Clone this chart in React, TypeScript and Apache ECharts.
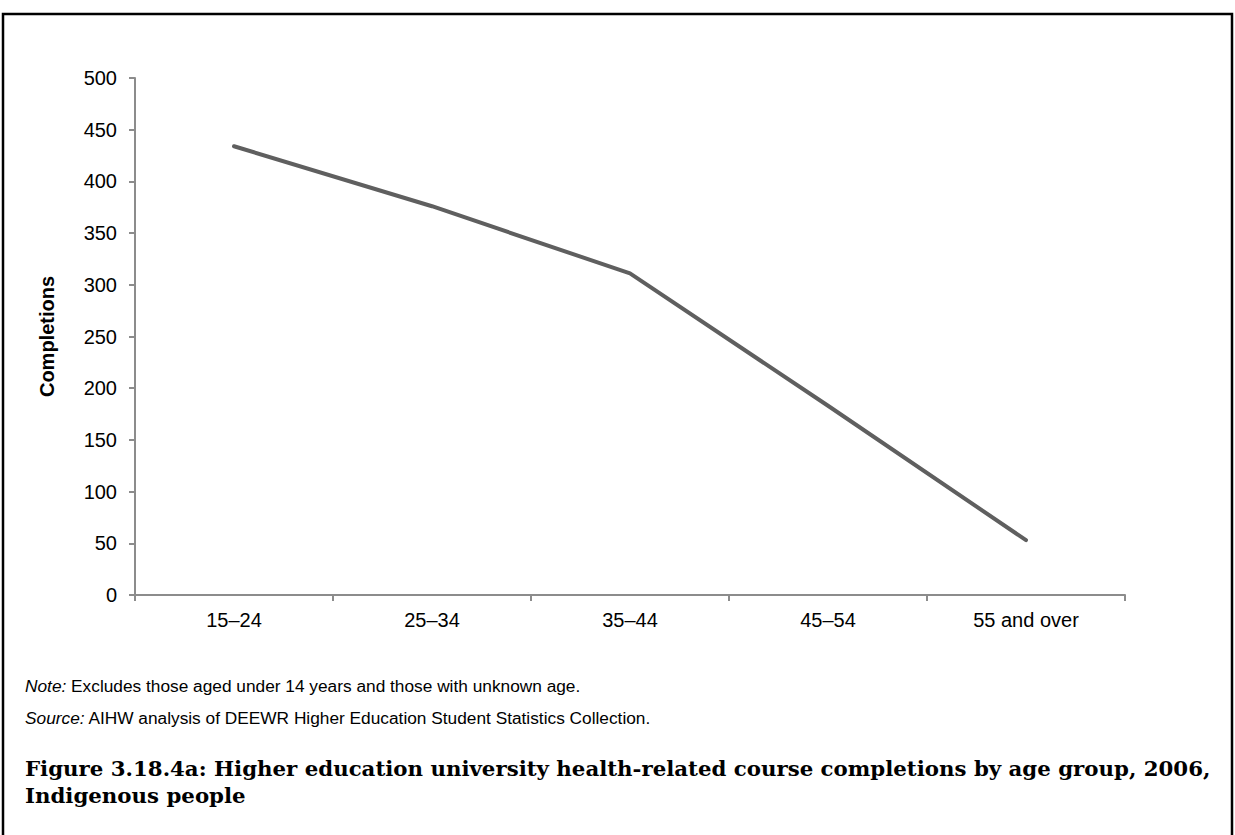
import React, { useEffect, useRef } from "react";
import * as echarts from "echarts";

const categories = ["15–24", "25–34", "35–44", "45–54", "55 and over"];
const completions = [434, 376, 311, 183, 53];
const yTicks = { min: 0, max: 500, interval: 50 };

const noteText = "Excludes those aged under 14 years and those with unknown age.";
const sourceText = "AIHW analysis of DEEWR Higher Education Student Statistics Collection.";
const titleLine1 = "Figure 3.18.4a: Higher education university health-related course completions by age group, 2006,";
const titleLine2 = "Indigenous people";

export default function App() {
  const ref = useRef<HTMLDivElement>(null);
  useEffect(() => {
    if (!ref.current) return;
    const chart = echarts.init(ref.current, undefined, { renderer: "svg" });
    const sans = "Liberation Sans, Arial, sans-serif";
    const serif = "DejaVu Serif, serif";
    chart.setOption({
      animation: false,
      backgroundColor: "#ffffff",
      grid: { left: 135, right: 110, top: 78, bottom: 240 },
      xAxis: {
        type: "category",
        data: categories,
        boundaryGap: true,
        axisLine: { lineStyle: { color: "#8c8c8c", width: 2 } },
        axisTick: { show: true, length: 6, lineStyle: { color: "#8c8c8c", width: 2 } },
        axisLabel: { color: "#000", fontFamily: sans, fontSize: 20, margin: 15 },
      },
      yAxis: {
        type: "value",
        min: yTicks.min,
        max: yTicks.max,
        interval: yTicks.interval,
        name: "Completions",
        nameLocation: "middle",
        nameGap: 78,
        nameRotate: 90,
        nameTextStyle: { color: "#000", fontFamily: sans, fontSize: 20, fontWeight: "bold" },
        splitLine: { show: false },
        axisLine: { show: true, lineStyle: { color: "#8c8c8c", width: 2 } },
        axisTick: { show: true, length: 6, lineStyle: { color: "#8c8c8c", width: 2 } },
        axisLabel: { color: "#000", fontFamily: sans, fontSize: 20, margin: 18 },
      },
      series: [
        {
          type: "line",
          data: completions,
          symbol: "none",
          lineStyle: { color: "#5f5f5f", width: 4, cap: "round", join: "round" },
        },
      ],
      graphic: [
        {
          type: "rect",
          shape: { x: 3, y: 14, width: 1229, height: 840 },
          style: { fill: "none", stroke: "#000", lineWidth: 2.5 },
          silent: true,
        },
        {
          type: "text",
          left: 25,
          top: 677,
          style: {
            text: "{i|Note:} " + noteText,
            rich: { i: { fontStyle: "italic", fontFamily: sans, fontSize: 17.3, fill: "#000" } },
            fontFamily: sans,
            fontSize: 17.3,
            fill: "#000",
          },
        },
        {
          type: "text",
          left: 25,
          top: 709,
          style: {
            text: "{i|Source:} " + sourceText,
            rich: { i: { fontStyle: "italic", fontFamily: sans, fontSize: 17.3, fill: "#000" } },
            fontFamily: sans,
            fontSize: 17.3,
            fill: "#000",
          },
        },
        {
          type: "text",
          left: 25,
          top: 758,
          style: {
            text: titleLine1,
            fontFamily: serif,
            fontWeight: "bold",
            fontSize: 21.3,
            fill: "#000",
          },
        },
        {
          type: "text",
          left: 25,
          top: 785,
          style: {
            text: titleLine2,
            fontFamily: serif,
            fontWeight: "bold",
            fontSize: 21.3,
            fill: "#000",
          },
        },
      ],
    });
    return () => chart.dispose();
  }, []);
  return (
    <div
      ref={ref}
      style={{ position: "fixed", left: 0, top: 0, width: 1235, height: 835, background: "#fff" }}
    />
  );
}
